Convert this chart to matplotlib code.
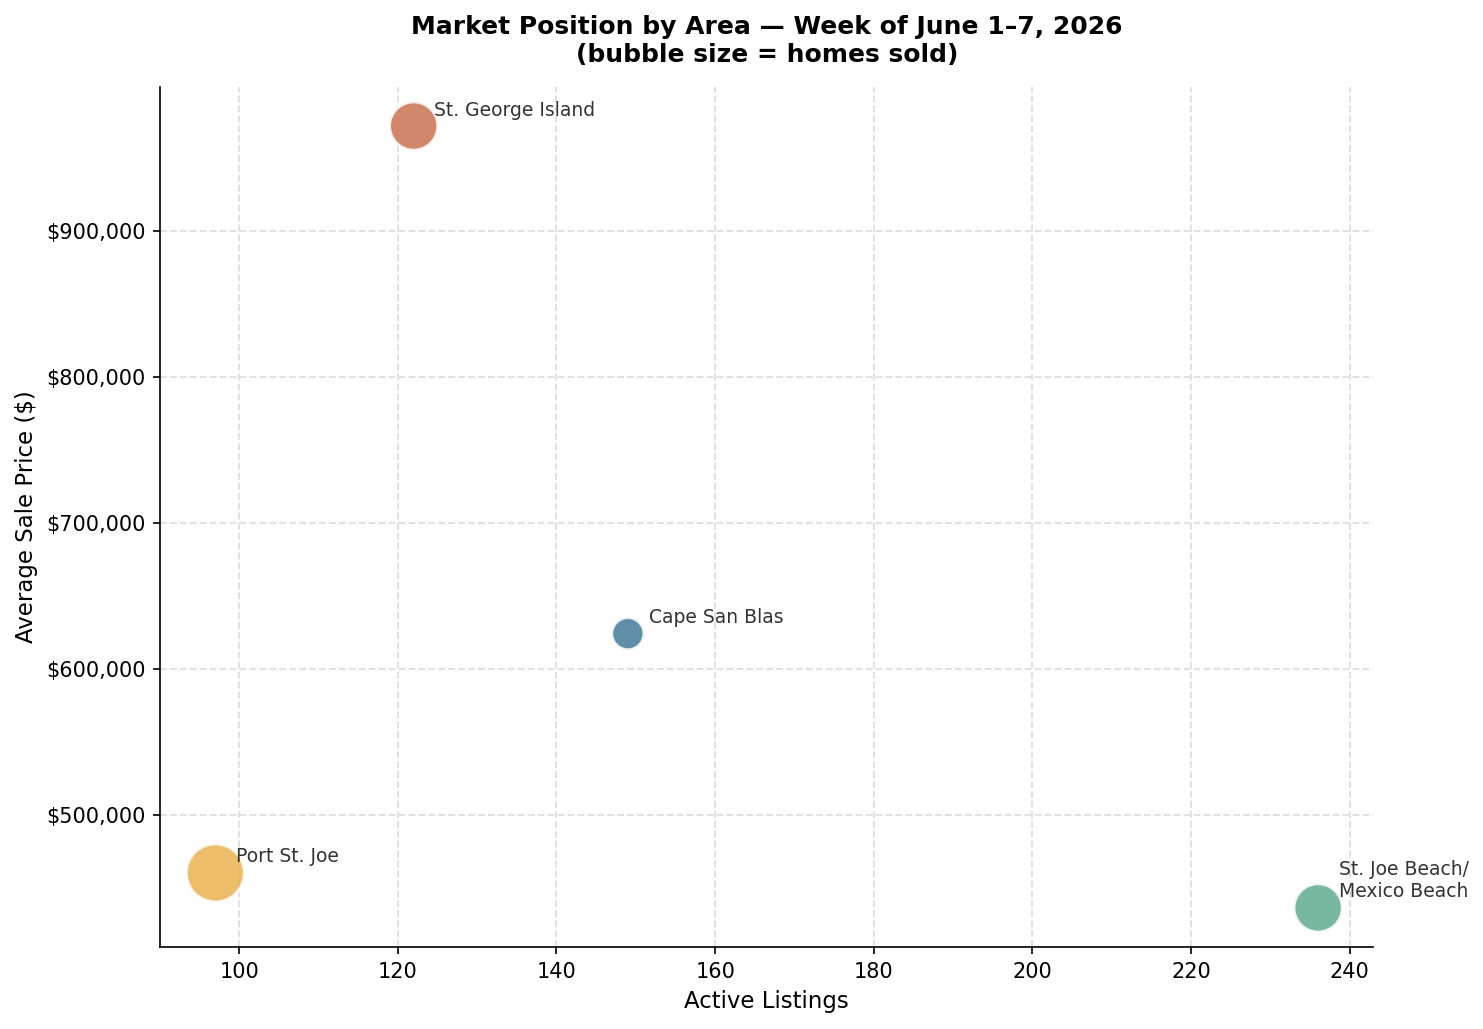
import matplotlib
matplotlib.use("Agg")
import matplotlib.pyplot as plt
from matplotlib.ticker import FuncFormatter

# ── data ─────────────────────────────────────
areas       = ["St. George Island", "Cape San Blas", "Port St. Joe", "St. Joe Beach/\nMexico Beach"]
listings    = [122, 149, 97, 236]
avg_price   = [972000, 624000, 460000, 436000]
homes_sold  = [9, 4, 13, 9]
colors      = ["#CC7250", "#437B99", "#EAB250", "#60AB8F"]

fig, ax = plt.subplots(figsize=(1483 / 150, 1029 / 150), dpi=150)

ax.scatter(listings, avg_price, s=[h * 60 for h in homes_sold], c=colors,
           alpha=0.85, edgecolors="white", linewidths=1.5, zorder=3)

for name, x, y in zip(areas, listings, avg_price):
    ax.annotate(name, (x, y), xytext=(10, 5), textcoords="offset points",
                fontsize=9, color="#333333")

ax.yaxis.set_major_formatter(FuncFormatter(lambda v, _: f"${v:,.0f}"))
ax.set_xlabel("Active Listings", fontsize=11)
ax.set_ylabel("Average Sale Price ($)", fontsize=11)
ax.set_title("Market Position by Area — Week of June 1–7, 2026\n(bubble size = homes sold)",
             fontsize=12, fontweight="bold", pad=12)
ax.grid(True, linestyle="--", color="#e0e0e0", linewidth=0.9)
ax.set_axisbelow(True)
ax.spines["top"].set_visible(False)
ax.spines["right"].set_visible(False)

plt.subplots_adjust(left=0.108, right=0.926, top=0.9155, bottom=0.0797)
plt.savefig("out.png", dpi=150)
